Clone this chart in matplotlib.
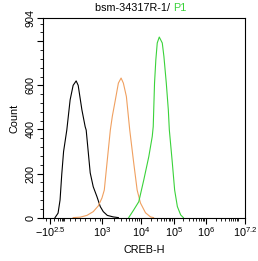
import matplotlib
matplotlib.use('Agg')
import matplotlib.pyplot as plt
import numpy as np

plt.rcParams['font.family'] = ['Liberation Sans', 'DejaVu Sans']
plt.rcParams['mathtext.fontset'] = 'custom'
plt.rcParams['mathtext.rm'] = 'Liberation Sans'
plt.rcParams['mathtext.it'] = 'Liberation Sans'

# histogram data: x = log10 intensity (decade coordinate), y = count
black_x = [1.779, 1.857, 1.909, 1.953, 2.000, 2.083, 2.169, 2.247, 2.325, 2.377, 2.473,
           2.558, 2.584, 2.636, 2.688, 2.766, 2.862, 2.948, 3.026, 3.130, 3.286, 3.416]
black_y = [0, 20, 80, 197, 300, 397, 534, 600, 620, 600, 489,
           412, 397, 300, 203, 140, 95, 50, 27, 10, 3, 0]

orange_x = [2.247, 2.429, 2.603, 2.766, 2.896, 2.992, 3.052, 3.122, 3.208, 3.260, 3.338,
            3.416, 3.486, 3.545, 3.623, 3.709, 3.813, 3.901, 3.987, 4.138, 4.292, 4.385]
orange_y = [0, 2, 10, 27, 53, 89, 125, 248, 397, 460, 534,
            610, 633, 610, 549, 398, 247, 125, 66, 22, 3, 0]

green_x = [3.683, 3.813, 3.943, 4.086, 4.240, 4.345, 4.375, 4.415, 4.455, 4.498, 4.560,
           4.652, 4.702, 4.775, 4.837, 4.868, 4.960, 5.031, 5.116, 5.219, 5.303]
green_y = [0, 35, 72, 171, 277, 368, 413, 610, 716, 792, 819,
           792, 731, 610, 489, 398, 248, 125, 50, 12, 0]

x_tick_pos = [1.649, 3, 4, 5, 6, 7.2]
x_tick_lab = ['$-10^{2.5}$', '$10^{3}$', '$10^{4}$', '$10^{5}$', '$10^{6}$', '$10^{7.2}$']
y_tick_pos = [0, 200, 400, 600, 800, 904]
y_tick_lab = ['0', '200', '400', '600', '', '904']

# axis is compressed above 10^4 (piecewise decade widths)
KU = np.array([0.0, 3.0, 4.0, 5.0, 6.0, 7.2])
KP = np.array([-13.5, 102.0, 140.5, 173.0, 205.0, 244.0])

def fwd(u):
    return np.interp(u, KU, KP)

def inv(p):
    return np.interp(p, KP, KU)

fig = plt.figure(figsize=(2.58, 2.61), dpi=100)
ax = fig.add_axes([43/258, 1 - 217.6/261, 202/258, 199.3/261])
ax.set_xscale('function', functions=(fwd, inv))

ax.plot(black_x, black_y, color='black', lw=0.8)
ax.plot(orange_x, orange_y, color='#F0A060', lw=0.8)
ax.plot(green_x, green_y, color='#3AD23A', lw=0.8)

ax.set_xlim(1.468, 7.2)
ax.set_ylim(0, 904)

ax.set_xticks(x_tick_pos)
ax.set_xticklabels(x_tick_lab, fontsize=7.8)
minor_x = [1.55, 1.75, 1.85, 1.92, 1.95, 1.98, 2.01, 2.17, 2.30, 2.43, 2.56, 2.69, 2.82, 2.95]
for d in [3, 4, 5, 6]:
    minor_x += [d + np.log10(k) for k in range(2, 10)]
minor_x += [7.0]
ax.set_xticks(minor_x, minor=True)

ax.set_yticks(y_tick_pos)
ax.set_yticklabels(y_tick_lab, fontsize=7.8, rotation=90, va='center')
ax.set_yticks([v for v in range(40, 904, 40) if v % 200 != 0], minor=True)

ax.tick_params(axis='both', which='major', length=4, width=0.8, pad=1.5)
ax.tick_params(axis='both', which='minor', length=2, width=0.6)
for s in ax.spines.values():
    s.set_linewidth(0.8)

ax.set_xlabel('CREB-H', fontsize=7.8, labelpad=4)
ax.set_ylabel('Count', fontsize=7.8, labelpad=4)

fig.text(0.672, 0.968, 'bsm-34317R-1/ ', ha='right', va='center', fontsize=7.8)
fig.text(0.672, 0.968, 'P1', ha='left', va='center', fontsize=7.8, color='#3AD23A')

fig.savefig('out.png', dpi=100)
